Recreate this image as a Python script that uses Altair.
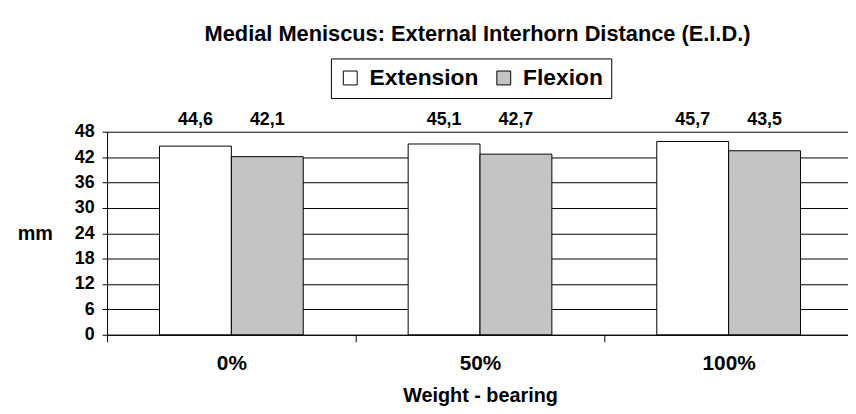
import altair as alt
import pandas as pd

categories = ["0%", "50%", "100%"]
series = ["Extension", "Flexion"]
extension = [44.6, 45.1, 45.7]
flexion = [42.1, 42.7, 43.5]
y_ticks = [0, 6, 12, 18, 24, 30, 36, 42, 48]

rows = []
for c, e, f in zip(categories, extension, flexion):
    rows.append({"cat": c, "series": "Extension", "value": e, "label": f"{e:.1f}".replace(".", ",")})
    rows.append({"cat": c, "series": "Flexion", "value": f, "label": f"{f:.1f}".replace(".", ",")})
df = pd.DataFrame(rows)

FONT = "Liberation Sans"

x = alt.X("cat:N", sort=categories,
          scale=alt.Scale(range=[0, 753], paddingInner=0, paddingOuter=0),
          axis=alt.Axis(title="Weight - bearing", labelAngle=0, tickBand="extent",
                        labelFontSize=21, labelFont=FONT, labelFontWeight="bold",
                        labelColor="black", labelPadding=11, tickSize=7,
                        tickColor="black", domainColor="black", grid=False,
                        titleFontSize=20, titleFont=FONT, titleFontWeight="bold",
                        titleColor="black", titlePadding=12))
xo = alt.XOffset("series:N", sort=series,
                 scale=alt.Scale(paddingOuter=0.73, paddingInner=0))

bars = alt.Chart(df).mark_bar(stroke="black", strokeWidth=1).encode(
    x=x,
    xOffset=xo,
    y=alt.Y("value:Q", scale=alt.Scale(domain=[0, 48], nice=False),
            axis=alt.Axis(values=y_ticks, title="mm", titleAngle=0,
                          titleX=-73, titleY=103, titleAlign="center",
                          titleBaseline="middle",
                          titleFontSize=20, titleFont=FONT, titleFontWeight="bold",
                          titleColor="black",
                          labelFontSize=18, labelFont=FONT, labelFontWeight="bold",
                          labelColor="black", labelPadding=8, tickSize=5,
                          tickColor="black", domainColor="black",
                          grid=True, gridColor="black", gridWidth=1, gridOpacity=1)),
    fill=alt.Fill("series:N", sort=series,
                  scale=alt.Scale(domain=series, range=["white", "#c4c4c4"]),
                  legend=alt.Legend(title=None, orient="none", legendX=226, legendY=-74,
                                    direction="horizontal", symbolType="square",
                                    symbolSize=196, symbolStrokeColor="black",
                                    symbolStrokeWidth=1, labelFontSize=23,
                                    labelFont=FONT, labelFontWeight="bold",
                                    labelColor="black", labelOffset=8,
                                    columnPadding=14, padding=8,
                                    strokeColor="black")),
)

labels = alt.Chart(df).mark_text(font=FONT, fontSize=18, fontWeight="bold",
                                 color="black", baseline="middle").encode(
    x=alt.X("cat:N", sort=categories),
    xOffset=alt.XOffset("series:N", sort=series),
    y=alt.value(-12),
    text="label:N",
)

chart = alt.layer(bars, labels).properties(
    width=748, height=205,
    autosize="none",
    padding={"left": 100, "top": 123, "right": 0, "bottom": 70},
    title=alt.Title("Medial Meniscus: External Interhorn Distance (E.I.D.)",
                    font=FONT, fontSize=22, fontWeight="bold", color="black",
                    anchor="middle", offset=12),
).configure_view(stroke=None)

chart.save("out.html", embed_options={"renderer": "svg", "actions": False})
